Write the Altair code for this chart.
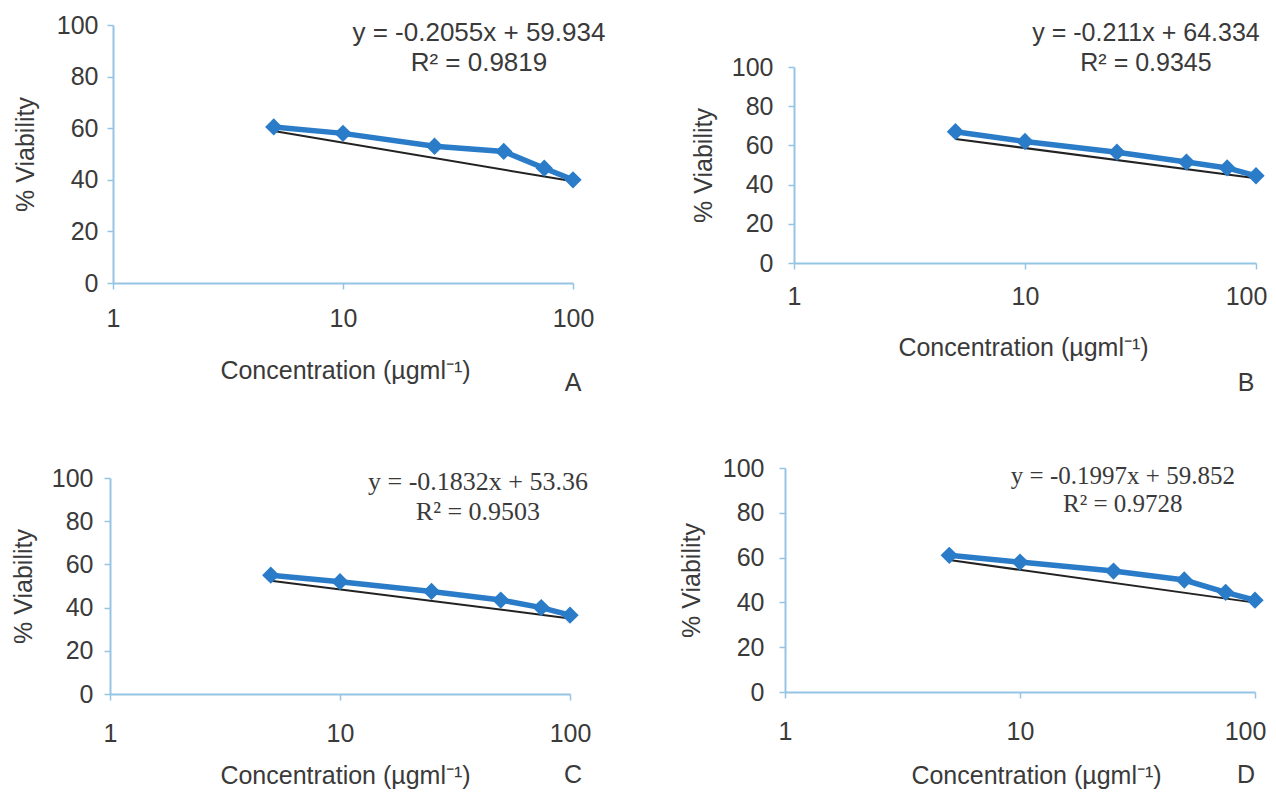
import altair as alt
import pandas as pd

# ---- data ----
conc = [5, 10, 25, 50, 75, 100]
via_A = [60.5, 58, 53, 51, 44.5, 40]
via_B = [67, 62, 56.5, 51.5, 48.5, 44.5]
via_C = [55, 52, 47.5, 43.5, 40, 36.5]
via_D = [61, 58, 54, 50, 44.5, 41]

trend_x = [5, 100]
trend_A = [58.9, 39.4]
trend_B = [63.3, 43.2]
trend_C = [52.4, 35.0]
trend_D = [58.9, 39.9]

eq_A = ["y = -0.2055x + 59.934", "R² = 0.9819"]
eq_B = ["y = -0.211x + 64.334", "R² = 0.9345"]
eq_C = ["y = -0.1832x + 53.36", "R² = 0.9503"]
eq_D = ["y = -0.1997x + 59.852", "R² = 0.9728"]

x_ticks = [1, 10, 100]
y_ticks = [0, 20, 40, 60, 80, 100]

X_TITLE = "Concentration (µgml⁻¹)"
Y_TITLE = "% Viability"

BLUE = "#2a7cc9"
AXIS = "#95c4e4"
TXT = "#3a3a3a"
SANS = "Liberation Sans"
SERIF = "Liberation Serif"


def panel(vals, tvals, eq, letter, w, h, xr, yr, eq_x, eq_y, eq_font, eq_size,
          letter_xy, xtitle_xy, ytitle_x, xlabel_pad, ylabel_pad,
          last_label_shift=0):
    df = pd.DataFrame({"conc": conc, "via": vals})
    tdf = pd.DataFrame({"conc": trend_x, "via": tvals})
    xs = alt.Scale(type="log", domain=[1, 100], nice=False, range=xr)
    ys = alt.Scale(domain=[0, 100], nice=False, range=yr)
    xax = alt.Axis(values=x_ticks, format="d", title=X_TITLE, grid=False,
                   domainColor=AXIS, domainWidth=2, tickColor=AXIS, tickSize=6,
                   tickWidth=1.5, labelFont=SANS, labelFontSize=25,
                   labelColor=TXT, labelPadding=xlabel_pad, titleFont=SANS,
                   titleFontSize=25, titleFontWeight="normal", titleColor=TXT,
                   titleX=xtitle_xy[0], titleY=xtitle_xy[1],
                   titleBaseline="middle", titleAlign="center",
                   labelFlush=False, offset=0,
                   labelOffset=alt.condition("datum.value == 100",
                                             alt.value(last_label_shift),
                                             alt.value(0)))
    yax = alt.Axis(values=y_ticks, title=Y_TITLE, grid=False,
                   domainColor=AXIS, domainWidth=2, tickColor=AXIS, tickSize=6,
                   tickWidth=1.5, labelFont=SANS, labelFontSize=25,
                   labelColor=TXT, labelPadding=ylabel_pad, titleFont=SANS,
                   titleFontSize=25, titleFontWeight="normal", titleColor=TXT,
                   titleX=ytitle_x, titleBaseline="middle",
                   offset=-xr[0])
    base_x = alt.X("conc:Q", scale=xs, axis=xax)
    base_y = alt.Y("via:Q", scale=ys, axis=yax)
    trend = alt.Chart(tdf).mark_line(color="#222222", strokeWidth=2).encode(
        x=base_x, y=base_y)
    line = alt.Chart(df).mark_line(color=BLUE, strokeWidth=5.5).encode(
        x=alt.X("conc:Q"), y=alt.Y("via:Q"))
    pts = alt.Chart(df).mark_point(shape="diamond", filled=True, color=BLUE,
                                   size=300, opacity=1).encode(
        x=alt.X("conc:Q"), y=alt.Y("via:Q"))
    layers = [trend, line, pts]
    for i, s in enumerate(eq):
        layers.append(
            alt.Chart(pd.DataFrame({"t": [s], "conc": [eq_x]})).mark_text(
                font=eq_font, fontSize=eq_size, color=TXT, align="center",
                baseline="middle").encode(
                x=alt.X("conc:Q"), y=alt.value(eq_y[i]), text="t:N"))
    layers.append(
        alt.Chart(pd.DataFrame({"t": [letter]})).mark_text(
            font=SANS, fontSize=25, color=TXT, align="center",
            baseline="middle").encode(
            x=alt.value(letter_xy[0]), y=alt.value(letter_xy[1]), text="t:N"))
    return alt.layer(*layers).properties(width=w, height=h)


pA = panel(via_A, trend_A, eq_A, "A", 463, 258, [3, 463], [258, 0], 39,
           [8, 38], SANS, 26, (463, 358), (235, 87), -88, 17, 9)
pB = panel(via_B, trend_B, eq_B, "B", 471, 238, [9, 471], [238, 42], 33.4,
           [8, 38], SANS, 25, (461, 358), (238, 84), -91, 15, 15, -10)
pC = panel(via_C, trend_C, eq_C, "C", 460, 226, [0, 460], [226, 10], 39.8,
           [14, 44], SERIF, 26, (463, 307), (235, 81), -87, 21, 11)
pD = panel(via_D, trend_D, eq_D, "D", 470, 224, [0, 470], [224, 0], 27.4,
           [8, 36], SERIF, 25, (461, 307), (251, 83), -94, 21, 15, -10)

chart = alt.concat(pA, pB, pC, pD, columns=2, spacing={"column": 212, "row": 185},
                   bounds="flush").configure_view(stroke=None).properties(
    autosize=alt.AutoSizeParams(type="none"),
    padding={"left": 102, "top": 17, "right": 1158, "bottom": 764},
    background="white")

chart.save("out.html", embed_options={"renderer": "svg", "actions": False})
